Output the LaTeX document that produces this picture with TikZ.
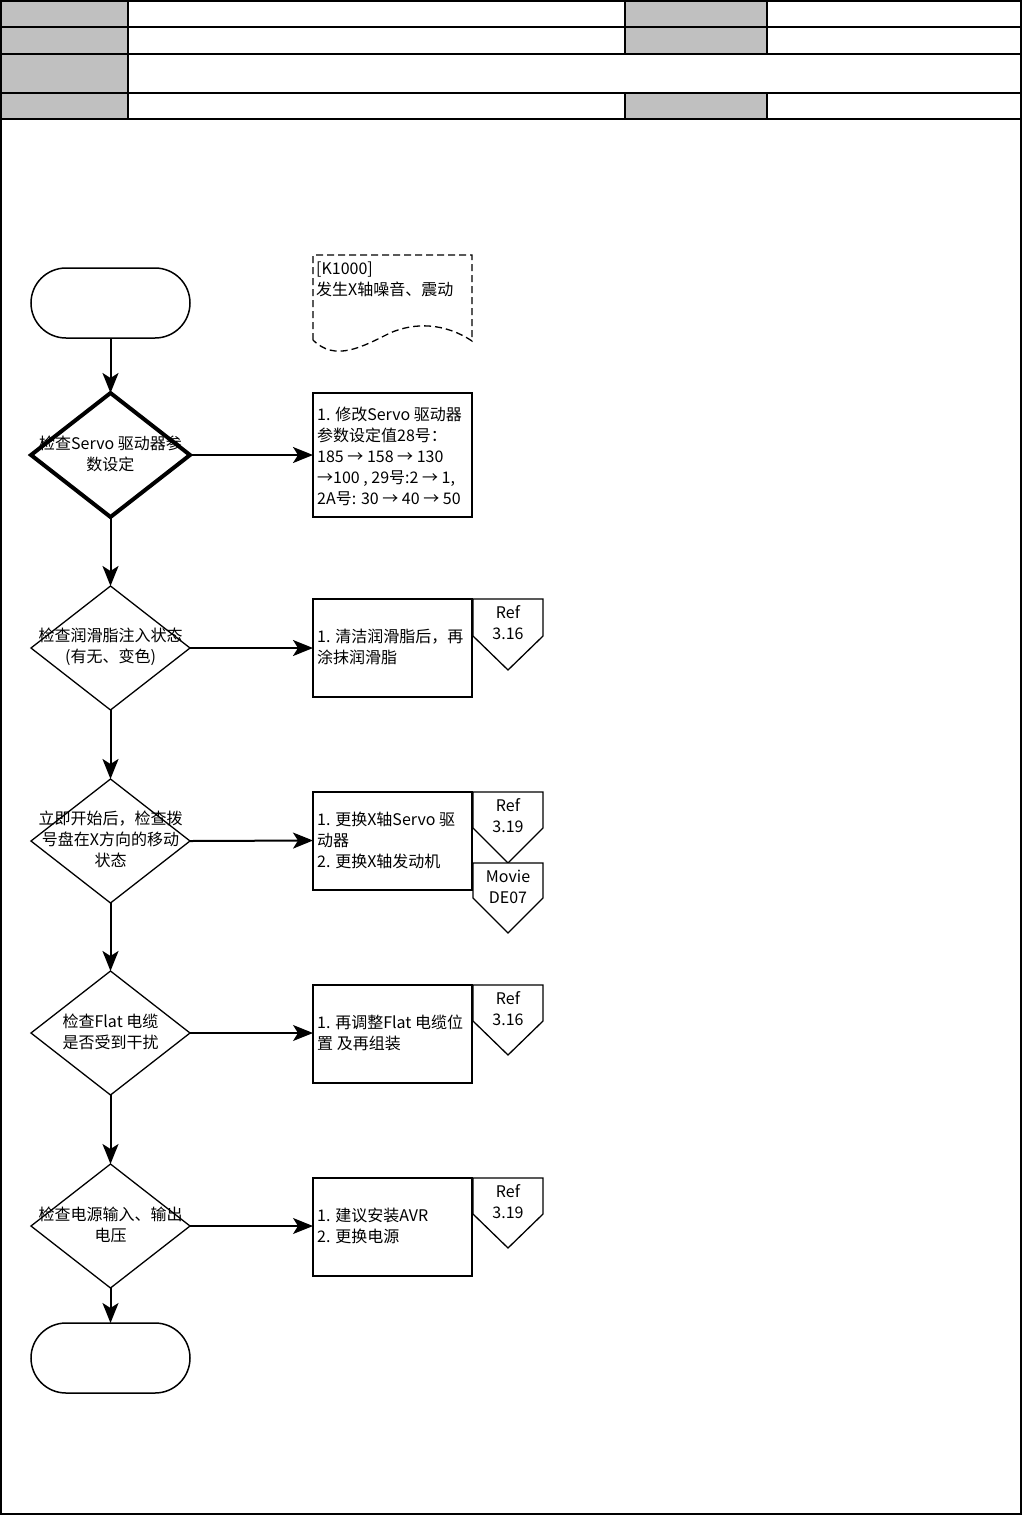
\documentclass[tikz,border=0pt]{standalone}
\usepackage{fontspec}
\setmainfont{Noto Sans CJK SC}
\usetikzlibrary{arrows.meta,shapes.geometric}
\definecolor{hdrgray}{HTML}{C0C0C0}
\tikzset{
  term/.style={draw,line width=1.5pt,rectangle,rounded corners=35pt,minimum width=159pt,minimum height=70pt,inner sep=0pt,outer sep=0pt},
  dia/.style={draw,line width=1.3pt,diamond,minimum width=159pt,minimum height=124pt,inner sep=0pt,outer sep=0pt},
  thickdia/.style={dia,line width=4pt},
  actbox/.style={draw,line width=2pt,rectangle,minimum width=159pt,minimum height=98pt,inner sep=0pt,outer sep=0pt},
  dtext/.style={align=center,inner sep=0pt},
  btext/.style={align=left,inner sep=0pt,anchor=west},
  tagshape/.style={draw,line width=1.3pt,fill=white,line join=miter},
  tagtext/.style={align=center,inner sep=0pt},
  conn/.style={line width=2pt,-{Stealth[length=20pt,width=16pt,inset=5pt]}},
  thinconn/.style={line width=1.1pt,-{Stealth[length=20pt,width=16pt,inset=5pt]}},
  hdrcell/.style={fill=hdrgray,draw=black,line width=2pt}
}
\begin{document}
\begin{tikzpicture}[x=1pt,y=-1pt,font=\fontsize{16}{21}\selectfont]
\useasboundingbox (0,0) rectangle (1023,1516);
\fill[white] (0,0) rectangle (1023,1516);
% header table
\fill[hdrgray] (1,1) rectangle (128,119);
\fill[hdrgray] (625,1) rectangle (767,54);
\fill[hdrgray] (625,93) rectangle (767,119);
\draw[line width=2pt] (1,27) -- (1021,27);
\draw[line width=2pt] (1,54) -- (1021,54);
\draw[line width=2pt] (1,93) -- (1021,93);
\draw[line width=2pt] (1,119) -- (1021,119);
\draw[line width=2pt] (128,1) -- (128,119);
\draw[line width=2pt] (625,1) -- (625,54);
\draw[line width=2pt] (767,1) -- (767,54);
\draw[line width=2pt] (625,93) -- (625,119);
\draw[line width=2pt] (767,93) -- (767,119);
\draw[line width=2pt] (1,1) rectangle (1021,1514);

% terminators
\node[term] (start) at (110.5,303) {};
\node[term] (stop) at (110.5,1358) {};

% decisions
\node[thickdia] (d1) at (110.5,455) {};
\node[dia] (d2) at (110.5,648) {};
\node[dia] (d3) at (110.5,841) {};
\node[dia] (d4) at (110.5,1033) {};
\node[dia] (d5) at (110.5,1226) {};
\node[dtext] (d1t) at (110.5,454) {检查Servo 驱动器参\\数设定};
\node[dtext] (d2t) at (110.5,647) {检查润滑脂注入状态\\(有无、变色)};
\node[dtext] (d3t) at (110.5,839) {立即开始后，检查拨\\号盘在X方向的移动\\状态};
\node[dtext] (d4t) at (110.5,1032) {检查Flat 电缆\\是否受到干扰};
\node[dtext] (d5t) at (110.5,1225) {检查电源输入、输出\\电压};

% action boxes
\node[actbox,minimum height=124pt] (b1) at (392.5,455) {};
\node[actbox] (b2) at (392.5,648) {};
\node[actbox] (b3) at (392.5,840.5) {};
\node[actbox] (b4) at (392.5,1033.5) {};
\node[actbox] (b5) at (392.5,1226.5) {};
\node[btext] (b1t) at ([xshift=4pt,yshift=-1pt]b1.west) {1. 修改Servo 驱动器\\参数设定值28号：\\185 → 158 → 130\\→100 , 29号:2 → 1,\\2A号: 30 → 40 → 50};
\node[btext] (b2t) at ([xshift=4pt,yshift=1pt]b2.west) {1. 清洁润滑脂后，再\\涂抹润滑脂};
\node[btext] (b3t) at ([xshift=4pt]b3.west) {1. 更换X轴Servo 驱\\动器\\2. 更换X轴发动机};
\node[btext] (b4t) at ([xshift=4pt,yshift=1pt]b4.west) {1. 再调整Flat 电缆位\\置 及再组装};
\node[btext] (b5t) at ([xshift=4pt,yshift=1pt]b5.west) {1. 建议安装AVR\\2. 更换电源};

% reference tags
\draw[tagshape] (473,599) -- (543,599) -- (543,636) -- (508,670) -- (473,636) -- cycle;
\node[tagtext] (r2) at (508,623) {Ref\\3.16};
\draw[tagshape] (473,792) -- (543,792) -- (543,828) -- (508,863) -- (473,828) -- cycle;
\node[tagtext] (r3) at (508,816) {Ref\\3.19};
\draw[tagshape] (473,863) -- (543,863) -- (543,898) -- (508,933) -- (473,898) -- cycle;
\node[tagtext] (r3b) at (508,887) {Movie\\DE07};
\draw[tagshape] (473,985) -- (543,985) -- (543,1021) -- (508,1055) -- (473,1021) -- cycle;
\node[tagtext] (r4) at (508,1009) {Ref\\3.16};
\draw[tagshape] (473,1178) -- (543,1178) -- (543,1214) -- (508,1248) -- (473,1214) -- cycle;
\node[tagtext] (r5) at (508,1202) {Ref\\3.19};

% dashed document
\draw[line width=1.3pt,dash pattern=on 7pt off 4pt] (313,340) -- (313,255) -- (472,255) -- (472,341)
  .. controls (445,323) and (415,322) .. (390,333)
  .. controls (362,347) and (335,362) .. (313,340);
\node[align=left,inner sep=0pt,anchor=north west] (doc) at (316,262) {[K1000]\\发生X轴噪音、震动};

% connectors
\draw[conn] (start.south) -- (d1.north);
\draw[conn] (d1.south) -- (d2.north);
\draw[conn] (d2.south) -- (d3.north);
\draw[conn] (d3.south) -- (d4.north);
\draw[conn] (d4.south) -- (d5.north);
\draw[conn] (d5.south) -- (stop.north);
\draw[conn] (d1.east) -- (b1.west);
\draw[conn] (d2.east) -- (b2.west);
\draw[conn] (d3.east) -- (b3.west);
\draw[thinconn] (d4.east) -- (b4.west |- d4.east);
\draw[thinconn] (d5.east) -- (b5.west |- d5.east);
\end{tikzpicture}
\end{document}
